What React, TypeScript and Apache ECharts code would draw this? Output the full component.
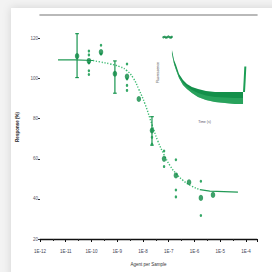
import React, { useEffect, useRef } from "react";
import * as echarts from "echarts";

// ---- main dose-response panel ----
const xTickExponents = [-12, -11, -10, -9, -8, -7, -6, -5, -4];
const yTickValues = [20, 40, 60, 80, 100, 120];

const logConc = [-10.56, -10.1, -9.63, -9.09, -8.62, -8.16, -7.65, -7.18, -6.72, -6.21, -5.75, -5.28];
const meanResponse = [111.2, 108.8, 113.2, 102.4, 101.0, 89.8, 74.1, 60.0, 51.7, 48.3, 40.5, 42.0];

// [logConc, low, high]
const yErrorBars = [
  [-10.56, 100.5, 122.4],
  [-9.09, 92.7, 108.8],
  [-7.65, 66.8, 81.0],
];

// replicate measurements [logConc, response]
const replicates = [
  [-10.1, 113.7], [-10.1, 111.8], [-10.1, 107.8], [-10.1, 103.9], [-10.1, 102.0],
  [-9.63, 116.6], [-9.63, 112.2],
  [-8.62, 107.3], [-8.62, 99.8], [-8.62, 96.6], [-8.62, 94.1],
  [-7.65, 70.7], [-7.65, 67.3],
  [-7.18, 63.9], [-7.18, 56.1],
  [-6.72, 59.5], [-6.72, 44.4], [-6.72, 41.0],
  [-5.75, 48.8], [-5.75, 31.7],
];

// fitted curve
const fitLog = [-11.3, -10.64, -9.94, -9.67, -9.28, -8.89, -8.62, -8.39, -8.16, -7.92, -7.65, -7.42, -7.18, -6.95, -6.72, -6.45, -6.17, -5.79, -5.4, -4.31];
const fitResp = [109.3, 109.3, 109.0, 108.3, 107.3, 105.9, 103.9, 100.5, 94.6, 87.3, 77.1, 68.8, 62.0, 56.6, 52.7, 49.3, 46.8, 44.6, 43.9, 43.4];
const fitSolidLeftEnd = 2;
const fitSolidRightStart = 17;

// ---- inset time trace ----
const insetPlateauT = [0.5, 2, 3.5, 5, 6.5, 8, 9.5, 10.5];
const insetPlateauV = [97, 97.5, 96.5, 97, 98, 97, 96.5, 97.5];
const bandT = [10.8, 13.3, 15.7, 19.3, 24.1, 28.9, 34.9, 42.2, 51.8, 62.7, 74.7, 86.7, 96.4];
const bandUpper = [80, 66.7, 60, 48, 40, 34.7, 30.7, 28, 25.3, 24, 24, 24, 24];
const bandLower = [74.7, 61.3, 53.3, 42.7, 33.3, 28, 22.7, 17.3, 13.3, 10.7, 9.3, 8, 8];
const spikeT = [97.6, 98.4, 99.2];
const spikeV = [24, 40, 58];

const GREEN = "#0e8a45";
const LIGHT = "#3dbb72";
const FONT = "Liberation Sans";

export default function App() {
  const ref = useRef<HTMLDivElement>(null);

  useEffect(() => {
    document.body.style.margin = "0";
    if (!ref.current) return;
    const chart = echarts.init(ref.current, null, { renderer: "svg" });

    const xMin = -12;
    const xMax = -3.57;

    const option: any = {
      animation: false,
      backgroundColor: "#f3f3f3",
      textStyle: { fontFamily: FONT },
      graphic: [
        {
          type: "rect",
          left: 11,
          top: 8,
          z: -10,
          shape: { width: 270, height: 270 },
          style: { fill: "#ffffff", shadowBlur: 8, shadowColor: "rgba(0,0,0,0.14)" },
        },
      ],
      grid: [
        { left: 40, right: 15, top: 15, bottom: 28, containLabel: false },
        { left: 163, right: 26, top: 35, bottom: 162, containLabel: false },
      ],
      xAxis: [
        {
          type: "value",
          gridIndex: 0,
          min: xMin,
          max: xMax,
          interval: 1,
          position: "bottom",
          name: "Agent per Sample",
          nameLocation: "middle",
          nameGap: 23,
          nameTextStyle: { fontSize: 4.5, color: "#333", fontFamily: FONT },
          axisLine: { show: true, onZero: false, lineStyle: { color: "#111", width: 1.3 } },
          axisTick: { show: true, length: 3, lineStyle: { color: "#111", width: 1 } },
          minorTick: { show: true, splitNumber: 2, length: 2, lineStyle: { color: "#222", width: 1 } },
          axisLabel: {
            customValues: xTickExponents,
            margin: 10,
            fontSize: 4.5,
            color: "#445",
            fontFamily: FONT,
            formatter: (v: number) => "1E" + Math.round(v),
          },
          splitLine: { show: false },
        },
        {
          type: "value",
          gridIndex: 0,
          min: xMin,
          max: xMax,
          position: "top",
          axisLine: { show: true, onZero: false, lineStyle: { color: "#a3a3a3", width: 1.6 } },
          axisTick: { show: false },
          axisLabel: { show: false },
          splitLine: { show: false },
        },
        {
          type: "value",
          gridIndex: 1,
          min: 0,
          max: 100,
          name: "Time (s)",
          nameLocation: "middle",
          nameGap: 10,
          nameTextStyle: { fontSize: 3.5, color: "#556", fontFamily: FONT },
          axisLine: { show: false },
          axisTick: { show: false },
          axisLabel: { show: false },
          splitLine: { show: false },
        },
      ],
      yAxis: [
        {
          type: "value",
          gridIndex: 0,
          min: 20,
          max: 131.7,
          interval: 20,
          name: "Response (%)",
          nameLocation: "middle",
          nameGap: 14,
          nameRotate: 90,
          nameTextStyle: { fontSize: 4.5, color: "#222", fontWeight: "bold", fontFamily: FONT },
          axisLine: { show: false },
          axisTick: { show: true, length: 2, customValues: yTickValues, lineStyle: { color: "#333" } },
          axisLabel: { customValues: yTickValues, margin: 2, fontSize: 4.5, color: "#556", fontFamily: FONT },
          splitLine: { show: false },
        },
        {
          type: "value",
          gridIndex: 1,
          min: 0,
          max: 100,
          name: "Fluorescence",
          nameLocation: "middle",
          nameGap: 3,
          nameRotate: 90,
          nameTextStyle: { fontSize: 3.5, color: "#333", fontFamily: FONT },
          axisLine: { show: false },
          axisTick: { show: false },
          axisLabel: { show: false },
          splitLine: { show: false },
        },
      ],
      series: [
        {
          type: "line",
          xAxisIndex: 0,
          yAxisIndex: 0,
          data: fitLog
            .map((x, i) => [x, fitResp[i]])
            .slice(fitSolidLeftEnd, fitSolidRightStart + 1),
          smooth: true,
          showSymbol: false,
          lineStyle: { color: LIGHT, width: 1.4, type: [1.3, 1.6] },
          z: 2,
        },
        {
          type: "line",
          xAxisIndex: 0,
          yAxisIndex: 0,
          data: fitLog.map((x, i) => [x, fitResp[i]]).slice(0, fitSolidLeftEnd + 1),
          showSymbol: false,
          lineStyle: { color: "#229a56", width: 1.2 },
          z: 2,
        },
        {
          type: "line",
          xAxisIndex: 0,
          yAxisIndex: 0,
          data: fitLog.map((x, i) => [x, fitResp[i]]).slice(fitSolidRightStart),
          showSymbol: false,
          lineStyle: { color: "#229a56", width: 1.2 },
          z: 2,
        },
        {
          type: "custom",
          xAxisIndex: 0,
          yAxisIndex: 0,
          data: yErrorBars,
          encode: { x: 0, y: [1, 2] },
          z: 3,
          renderItem: (params: any, api: any) => {
            const x = api.value(0);
            const lo = api.coord([x, api.value(1)]);
            const hi = api.coord([x, api.value(2)]);
            const cap = 1.8;
            const st = { stroke: "#17954f", lineWidth: 1.2 };
            return {
              type: "group",
              children: [
                { type: "line", shape: { x1: lo[0], y1: lo[1], x2: hi[0], y2: hi[1] }, style: st },
                { type: "line", shape: { x1: lo[0] - cap, y1: lo[1], x2: lo[0] + cap, y2: lo[1] }, style: st },
                { type: "line", shape: { x1: hi[0] - cap, y1: hi[1], x2: hi[0] + cap, y2: hi[1] }, style: st },
              ],
            };
          },
        },
        {
          type: "scatter",
          xAxisIndex: 0,
          yAxisIndex: 0,
          data: replicates,
          symbol: "circle",
          symbolSize: [2.4, 3],
          itemStyle: { color: "#1f9e57", opacity: 0.9 },
          z: 4,
        },
        {
          type: "scatter",
          xAxisIndex: 0,
          yAxisIndex: 0,
          data: logConc.map((x, i) => [x, meanResponse[i]]),
          symbol: "circle",
          symbolSize: [4.5, 6],
          itemStyle: { color: GREEN },
          z: 5,
        },
        {
          type: "scatter",
          xAxisIndex: 2,
          yAxisIndex: 1,
          data: insetPlateauT.map((t, i) => [t, insetPlateauV[i]]),
          symbol: "circle",
          symbolSize: 2.4,
          itemStyle: { color: GREEN },
        },
        {
          type: "custom",
          xAxisIndex: 2,
          yAxisIndex: 1,
          data: bandT.map((t, i) => [t, bandLower[i], bandUpper[i]]),
          encode: { x: 0, y: [1, 2] },
          renderItem: (params: any, api: any) => {
            if (params.dataIndex !== 0) return null;
            const upper = bandT.map((t, i) => api.coord([t, bandUpper[i]]));
            const lower = bandT.map((t, i) => api.coord([t, bandLower[i]])).reverse();
            const mid = bandT.map((t, i) => api.coord([t, (bandUpper[i] + bandLower[i]) / 2]));
            const midRev = bandT.map((t, i) => api.coord([t, bandLower[i]])).reverse();
            return {
              type: "group",
              children: [
                { type: "polygon", shape: { points: upper.concat(lower) }, style: { fill: "#138f4a" } },
                { type: "polygon", shape: { points: mid.concat(midRev) }, style: { fill: "#3bb26c", opacity: 0.55 } },
              ],
            };
          },
        },
        {
          type: "line",
          xAxisIndex: 2,
          yAxisIndex: 1,
          data: spikeT.map((t, i) => [t, spikeV[i]]),
          showSymbol: false,
          lineStyle: { color: "#1c9e55", width: 2 },
        },
      ],
    };

    chart.setOption(option);
    return () => chart.dispose();
  }, []);

  return <div ref={ref} style={{ width: 272, height: 272 }} />;
}
